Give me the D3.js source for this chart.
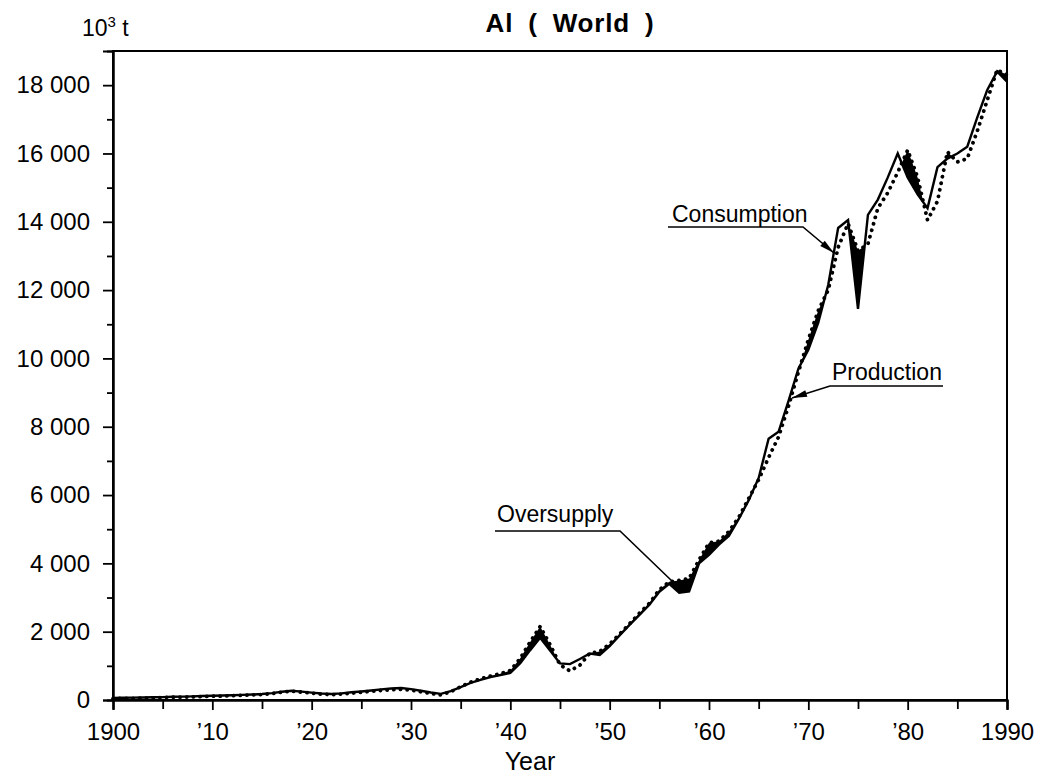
<!DOCTYPE html>
<html>
<head>
<meta charset="utf-8">
<script src="https://cdn.jsdelivr.net/npm/d3@7"></script>
<style>
  body { margin: 0; background: #fff; }
  svg text { font-family: "Liberation Sans", Arial, Helvetica, sans-serif; fill: #000; }
</style>
</head>
<body>
<svg id="chart" width="1046" height="777"></svg>
<script>
// World aluminium, thousand tonnes per year
const years = [
  1900,1901,1902,1903,1904,1905,1906,1907,1908,1909,
  1910,1911,1912,1913,1914,1915,1916,1917,1918,1919,
  1920,1921,1922,1923,1924,1925,1926,1927,1928,1929,
  1930,1931,1932,1933,1934,1935,1936,1937,1938,1939,
  1940,1941,1942,1943,1944,1945,1946,1947,1948,1949,
  1950,1951,1952,1953,1954,1955,1956,1957,1958,1959,
  1960,1961,1962,1963,1964,1965,1966,1967,1968,1969,
  1970,1971,1972,1973,1974,1975,1976,1977,1978,1979,
  1980,1981,1982,1983,1984,1985,1986,1987,1988,1989,
  1990
];

const consumption = [
  60,65,70,75,80,85,95,100,105,115,
  125,130,140,150,160,175,200,240,270,245,
  215,190,175,195,225,250,280,310,335,350,
  320,270,220,180,260,380,500,590,670,730,
  790,1080,1460,1820,1450,1070,1050,1200,1360,1320,
  1580,1890,2200,2490,2790,3170,3400,3140,3180,4000,
  4250,4550,4800,5300,5850,6500,7650,7850,8750,9700,
  10250,11050,12150,13820,14050,11450,14200,14650,15300,16000,
  15300,14800,14400,15600,15850,16000,16200,17050,17850,18400,
  18100
];

const production = [
  40,45,50,55,60,70,80,85,90,100,
  110,115,125,135,145,160,190,230,260,230,
  200,170,155,175,200,225,255,280,300,310,
  290,240,190,150,240,390,520,620,700,770,
  860,1220,1700,2150,1620,1030,850,1020,1370,1420,
  1640,1930,2230,2540,2830,3230,3460,3500,3560,4100,
  4600,4650,4930,5350,5900,6450,7100,7700,8600,9600,
  10550,11400,12000,13250,13950,13150,13350,14400,14850,15450,
  16100,15300,14050,14600,16050,15750,15850,16650,17550,18450,
  18300
];

const yMajorTicks = [0,2000,4000,6000,8000,10000,12000,14000,16000,18000];
const yTickLabels = ["0","2 000","4 000","6 000","8 000","10 000","12 000","14 000","16 000","18 000"];
const yMinorTicks = [1000,3000,5000,7000,9000,11000,13000,15000,17000];
const xMajorTicks = [1900,1910,1920,1930,1940,1950,1960,1970,1980,1990];
const xTickLabels = ["1900","\u201910","\u201920","\u201930","\u201940","\u201950","\u201960","\u201970","\u201980","1990"];
const xMinorTicks = [1905,1915,1925,1935,1945,1955,1965,1975,1985];

const svg = d3.select("#chart");
const plot = { left: 113, right: 1007, top: 51, bottom: 700 };

const x = d3.scaleLinear().domain([1900, 1990]).range([plot.left, plot.right]);
const y = d3.scaleLinear().domain([0, 19000]).range([plot.bottom, plot.top]);

const rows = years.map((yr, i) => ({ year: yr, cons: consumption[i], prod: production[i] }));

// Title and unit
svg.append("text")
  .attr("x", 570).attr("y", 32)
  .attr("text-anchor", "middle")
  .style("font-size", "26px").style("font-weight", "bold")
  .style("word-spacing", "7px").style("letter-spacing", "0.8px")
  .text("Al ( World )");

const unit = svg.append("text").attr("x", 82).attr("y", 36).style("font-size", "23px");
unit.append("tspan").text("10");
unit.append("tspan").attr("dy", -9).style("font-size", "15px").text("3");
unit.append("tspan").attr("dy", 9).text(" t");

// Oversupply: area between the two series, kept only where production lies above consumption
const clipAbove = d3.area()
  .x(d => x(d.year)).y0(0).y1(d => y(d.cons));
svg.append("clipPath").attr("id", "above-cons")
  .append("path").attr("d", clipAbove(rows));

const gapArea = d3.area()
  .x(d => x(d.year)).y0(d => y(d.cons)).y1(d => y(d.prod));
svg.append("path")
  .attr("d", gapArea(rows))
  .attr("clip-path", "url(#above-cons)")
  .attr("fill", "#000");

// Series lines
const consLine = d3.line().x(d => x(d.year)).y(d => y(d.cons));
const prodLine = d3.line().x(d => x(d.year)).y(d => y(d.prod));

svg.append("path")
  .attr("d", consLine(rows))
  .attr("fill", "none").attr("stroke", "#000")
  .attr("stroke-width", 2.4).attr("stroke-linejoin", "miter");

svg.append("path")
  .attr("d", prodLine(rows))
  .attr("fill", "none").attr("stroke", "#000")
  .attr("stroke-width", 3.8).attr("stroke-linecap", "round")
  .attr("stroke-dasharray", "0.1 6.6");

// Frame
svg.append("rect")
  .attr("x", plot.left).attr("y", plot.top)
  .attr("width", plot.right - plot.left).attr("height", plot.bottom - plot.top)
  .attr("fill", "none").attr("stroke", "#000").attr("stroke-width", 2);

// Y axis
const yAxis = svg.append("g")
  .attr("transform", `translate(${plot.left},0)`)
  .call(d3.axisLeft(y).tickValues(yMajorTicks)
    .tickFormat((d, i) => yTickLabels[i]).tickSize(10).tickPadding(13));
yAxis.append("g").call(d3.axisLeft(y).tickValues(yMinorTicks).tickFormat("").tickSize(6));

// X axis
const xAxis = svg.append("g")
  .attr("transform", `translate(0,${plot.bottom})`)
  .call(d3.axisBottom(x).tickValues(xMajorTicks)
    .tickFormat((d, i) => xTickLabels[i]).tickSize(10).tickPadding(13));
xAxis.append("g").call(d3.axisBottom(x).tickValues(xMinorTicks).tickFormat("").tickSize(9));

svg.selectAll(".domain").attr("stroke", "#000").attr("stroke-width", 2);
svg.selectAll(".tick line").attr("stroke", "#000").attr("stroke-width", 1.8);
svg.selectAll(".tick text")
  .style("font-family", "'Liberation Sans', Arial, sans-serif")
  .style("font-size", "24px").attr("fill", "#000");

svg.append("text")
  .attr("x", 530).attr("y", 770)
  .attr("text-anchor", "middle")
  .style("font-size", "25px")
  .text("Year");

// Callouts
const callouts = [
  { label: "Consumption", tx: 672, ty: 222, path: [[668,227],[803,227],[834,253]], arrow: true },
  { label: "Production",  tx: 832, ty: 380, path: [[943,386],[830,386],[792,398]], arrow: true },
  { label: "Oversupply",  tx: 497, ty: 522, path: [[495,531],[620,531],[673,582]], arrow: false }
];

callouts.forEach(c => {
  svg.append("text").attr("x", c.tx).attr("y", c.ty)
    .style("font-size", "23px").text(c.label);
  svg.append("path")
    .attr("d", d3.line()(c.path))
    .attr("fill", "none").attr("stroke", "#000").attr("stroke-width", 1.6);
  if (c.arrow) {
    const [x0, y0] = c.path[c.path.length - 2];
    const [x1, y1] = c.path[c.path.length - 1];
    const len = Math.hypot(x1 - x0, y1 - y0);
    const ux = (x1 - x0) / len, uy = (y1 - y0) / len;
    const L = 15, W = 3.5;
    const bx = x1 - ux * L, by = y1 - uy * L;
    svg.append("path")
      .attr("d", `M${x1},${y1}L${bx - uy * W},${by + ux * W}L${bx + uy * W},${by - ux * W}Z`)
      .attr("fill", "#000");
  }
});
</script>
</body>
</html>
